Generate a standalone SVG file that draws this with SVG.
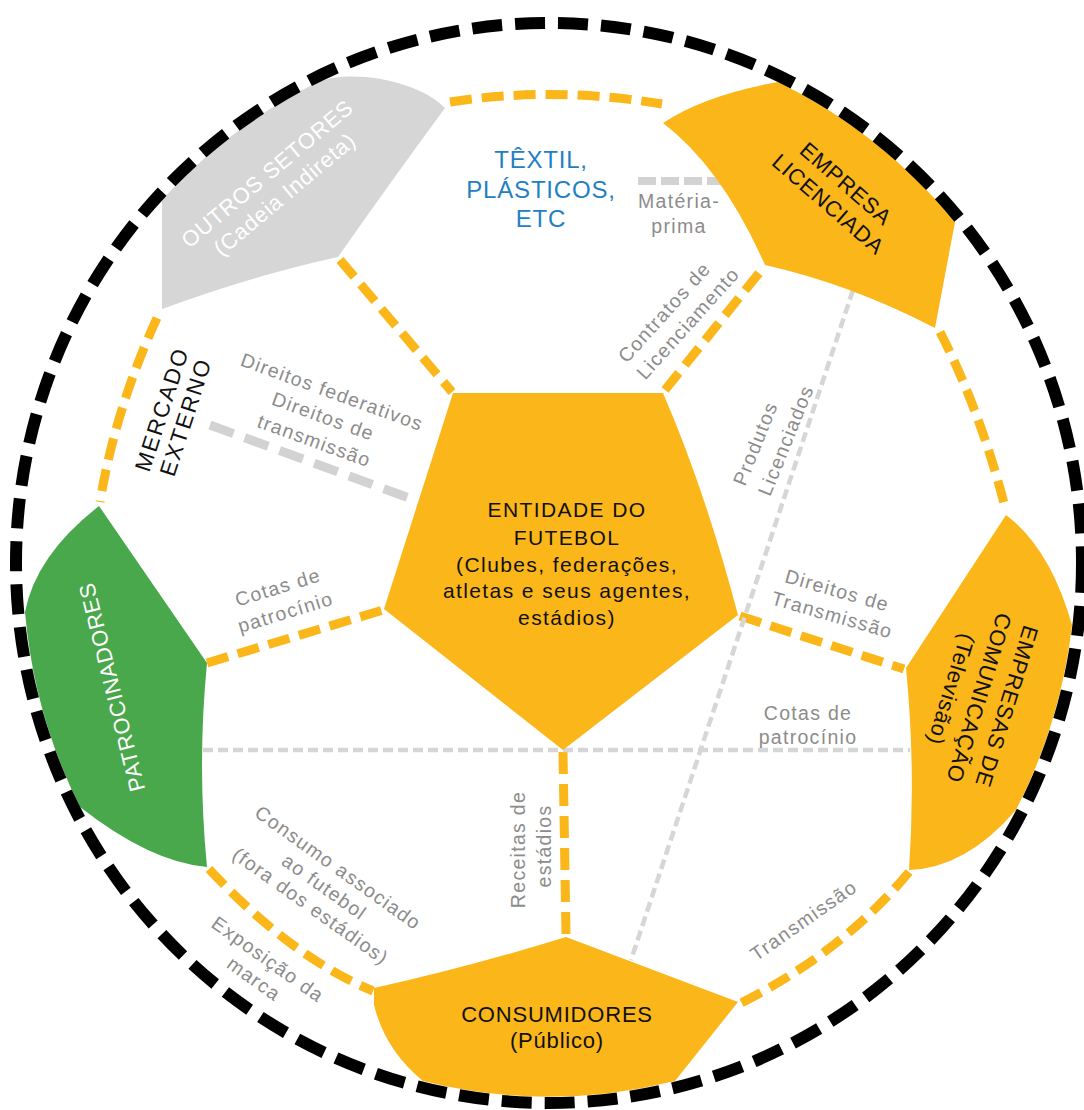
<svg xmlns="http://www.w3.org/2000/svg" width="1084" height="1110" viewBox="0 0 1084 1110">
<defs>
<style>
text { font-family: "Liberation Sans", Arial, sans-serif; }
.yel { fill: #fbb619; }
.ydash { fill: none; stroke: #fbb619; stroke-width: 9; stroke-dasharray: 22 10; }
.gthick { fill: none; stroke: #d2d2d2; stroke-width: 9; stroke-dasharray: 25 12; }
.gmat { fill: none; stroke: #d2d2d2; stroke-width: 8; stroke-dasharray: 18 5; }
.gthin { fill: none; stroke: #d6d6d6; stroke-width: 4.5; stroke-dasharray: 10 5; }
.lbl { font-size: 19.5px; fill: #8c8c8c; letter-spacing: 1.3px; text-anchor: middle; }
.ptxt { font-size: 22px; fill: #111; letter-spacing: 0.8px; text-anchor: middle; }
.wtxt { font-size: 22px; fill: #ffffff; letter-spacing: 0.8px; text-anchor: middle; }
.ctxt { font-size: 21px; fill: #111; letter-spacing: 1.4px; text-anchor: middle; }
.btxt { font-size: 24px; fill: #1f80c2; letter-spacing: 0.8px; text-anchor: middle; }
</style>
</defs>
<rect width="1084" height="1110" fill="#ffffff"/>

<g id="connectors">
  <path class="ydash" d="M450,102 Q553,86 662,104"/>
  <path class="ydash" d="M340,260 L452,392"/>
  <path class="ydash" d="M665,390 L763,268"/>
  <path class="ydash" d="M940,332 Q980,410 1005,507"/>
  <path class="ydash" d="M157,318 Q115,410 100,502"/>
  <path class="ydash" d="M207,663 L383,610"/>
  <path class="ydash" d="M740,616 L904,669"/>
  <path class="ydash" d="M563,752 L566,935"/>
  <path class="ydash" d="M209,869 Q291,957 373,991"/>
  <path class="ydash" d="M909,872 Q843,952 739,1004"/>
  <path class="gthick" d="M210,425 L420,502"/>
  <path class="gmat" d="M638,181 L724,181"/>
  <path class="gthin" d="M203,750 L910,750"/>
  <path class="gthin" d="M853,290 L631,960"/>
</g>

<g id="labels">
  <g transform="translate(323,417) rotate(20)">
    <text class="lbl" x="0" y="-20">Direitos federativos</text>
    <text class="lbl" x="0" y="6">Direitos de</text>
    <text class="lbl" x="0" y="32">transmissão</text>
  </g>
  <g transform="translate(665,312.5) rotate(-48)">
    <text class="lbl" x="-64" y="6" style="text-anchor:start">Contratos de</text>
    <text class="lbl" x="-64" y="31" style="text-anchor:start">Licenciamento</text>
  </g>
  <g transform="translate(756,444) rotate(-68)">
    <text class="lbl" x="-44" y="6" style="text-anchor:start">Produtos</text>
    <text class="lbl" x="-44" y="33" style="text-anchor:start">Licenciados</text>
  </g>
  <g transform="translate(837,591) rotate(16)">
    <text class="lbl" x="0" y="6">Direitos de</text>
    <text class="lbl" x="2" y="31">Transmissão</text>
  </g>
  <text class="lbl" x="808" y="720">Cotas de</text>
  <text class="lbl" x="808" y="744">patrocínio</text>
  <g transform="translate(278,588) rotate(-17)">
    <text class="lbl" x="0" y="6">Cotas de</text>
    <text class="lbl" x="0" y="32">patrocínio</text>
  </g>
  <g transform="translate(324,887.5) rotate(35.5)">
    <text class="lbl" x="0" y="-17.6">Consumo associado</text>
    <text class="lbl" x="0" y="6">ao futebol</text>
    <text class="lbl" x="0" y="29.6">(fora dos estádios)</text>
  </g>
  <g transform="translate(267.5,960) rotate(35.5)">
    <text class="lbl" x="0" y="6">Exposição da</text>
    <text class="lbl" x="0" y="30">marca</text>
  </g>
  <g transform="translate(519,849.5) rotate(-90)">
    <text class="lbl" x="0" y="6">Receitas de</text>
    <text class="lbl" x="3.5" y="32">estádios</text>
  </g>
  <g transform="translate(804,921) rotate(-35)">
    <text class="lbl" x="0" y="6">Transmissão</text>
  </g>
  <text class="lbl" x="679" y="208">Matéria-</text>
  <text class="lbl" x="679" y="233">prima</text>
</g>

<g id="node-outros-setores">
  <path fill="#d6d6d6" d="M162,309 L162,200 A527,534 0 0 1 318,82 C355,68 420,82 445,108 Q392,180 338,257 Q255,275 162,309 Z"/>
  <g transform="translate(276,184) rotate(-40)">
    <text class="wtxt" x="0" y="-6">OUTROS SETORES</text>
    <text class="wtxt" x="0" y="21">(Cadeia Indireta)</text>
  </g>
</g>

<g id="node-textil">
  <text class="btxt" x="541" y="168">TÊXTIL,</text>
  <text class="btxt" x="541" y="198">PLÁSTICOS,</text>
  <text class="btxt" x="541" y="227">ETC</text>
</g>

<g id="node-empresa-licenciada">
  <path class="yel" d="M663,123 Q705,95 778,82 A527,534 0 0 1 955,222 L935,328 Q850,284 765,265 Q722,168 663,123 Z"/>
  <g transform="translate(837,194) rotate(41)">
    <text class="ptxt" x="0" y="-6">EMPRESA</text>
    <text class="ptxt" x="0" y="21">LICENCIADA</text>
  </g>
</g>

<g id="node-mercado-externo">
  <g transform="translate(173.5,413) rotate(-72)">
    <text class="ptxt" x="0" y="-4.5" style="font-size:22.5px;letter-spacing:2px">MERCADO</text>
    <text class="ptxt" x="0" y="20.5" style="font-size:22.5px;letter-spacing:2px">EXTERNO</text>
  </g>
</g>

<g id="node-entidade">
  <path class="yel" d="M453,393 L663,393 Q705,490 738,615 L563,750 L384,609 Z"/>
  <text class="ctxt" x="567" y="517">ENTIDADE DO</text>
  <text class="ctxt" x="567" y="545">FUTEBOL</text>
  <text class="ctxt" x="567" y="572">(Clubes, federações,</text>
  <text class="ctxt" x="567" y="598">atletas e seus agentes,</text>
  <text class="ctxt" x="567" y="625">estádios)</text>
</g>

<g id="node-patrocinadores">
  <path fill="#4aa84c" d="M99,506 Q36,555 25,612 A527,534 0 0 0 80,807 Q150,862 207,867 Q197,765 207,663 Z"/>
  <g transform="translate(112,687) rotate(-104)">
    <text class="wtxt" x="0" y="7.5">PATROCINADORES</text>
  </g>
</g>

<g id="node-empresas-comunicacao">
  <path class="yel" d="M1006,515 Q1050,548 1072,625 A527,534 0 0 1 1016,810 Q966,868 909,870 Q916,770 906,668 Z"/>
  <g transform="translate(979,698) rotate(107)">
    <text class="ptxt" x="0" y="-21.5">EMPRESAS DE</text>
    <text class="ptxt" x="0" y="7.5">COMUNICAÇÃO</text>
    <text class="ptxt" x="0" y="36.5">(Televisão)</text>
  </g>
</g>

<g id="node-consumidores">
  <path class="yel" d="M566,937 L738,1002 L675,1081 A527,534 0 0 1 423,1081 Q385,1050 374,1005 L374,988 Q465,968 566,937 Z"/>
  <text class="ptxt" x="557" y="1022">CONSUMIDORES</text>
  <text class="ptxt" x="557" y="1048">(Público)</text>
</g>

<g id="ball-outline">
  <ellipse cx="549" cy="563" rx="533" ry="540" fill="none" stroke="#000000" stroke-width="12" stroke-dasharray="30 13"/>
</g>
</svg>
